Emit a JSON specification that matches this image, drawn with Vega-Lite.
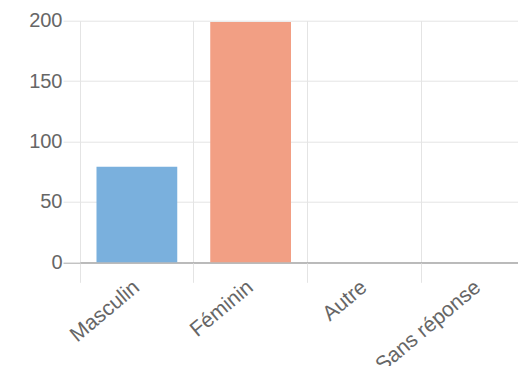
{
  "$schema": "https://vega.github.io/schema/vega-lite/v6.json",
  "width": 438,
  "height": 241.6,
  "autosize": {"type": "none"},
  "padding": {"left": 80, "top": 20.7, "right": 0, "bottom": 103.7},
  "background": "white",
  "data": {"values": [
    {"genre": "Masculin", "n": 79},
    {"genre": "Féminin", "n": 199},
    {"genre": "Autre", "n": 0},
    {"genre": "Sans réponse", "n": 0}
  ]},
  "mark": {"type": "bar", "width": {"band": 0.71}},
  "encoding": {
    "x": {
      "field": "genre", "type": "nominal", "sort": null,
      "scale": {"paddingInner": 0, "paddingOuter": 0, "range": [0, 455]},
      "axis": {
        "title": null, "bandPosition": 0, "grid": true, "gridColor": "#e4e4e4",
        "ticks": true, "tickSize": 20, "tickColor": "#e4e4e4",
        "domain": true, "domainColor": "#a8a8a8",
        "labelAngle": -40, "labelAlign": "right", "labelBaseline": "middle",
        "labelFont": "Liberation Sans", "labelFontSize": 21,
        "labelColor": "#666666", "labelPadding": 2, "labelOffset": 0
      }
    },
    "y": {
      "field": "n", "type": "quantitative",
      "scale": {"domain": [0, 200], "nice": false},
      "axis": {
        "title": null, "values": [0, 50, 100, 150, 200],
        "grid": true, "gridColor": {"condition": {"test": "datum.value === 0", "value": "#a8a8a8"}, "value": "#e4e4e4"},
        "ticks": true, "tickSize": 17,
        "tickColor": {"condition": {"test": "datum.value === 0", "value": "#a8a8a8"}, "value": "#e4e4e4"},
        "domain": false,
        "labelFont": "Liberation Sans", "labelFontSize": 20, "labelColor": "#666666", "labelPadding": 1
      }
    },
    "color": {
      "field": "genre", "type": "nominal", "legend": null,
      "scale": {"domain": ["Masculin", "Féminin", "Autre", "Sans réponse"], "range": ["#7ab0dd", "#f29f84", "#d0d0d0", "#d0d0d0"]}
    }
  },
  "config": {"view": {"stroke": null}}
}
